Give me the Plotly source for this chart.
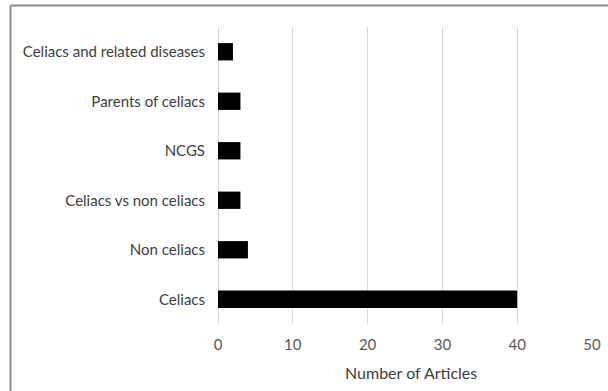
import plotly.graph_objects as go

categories = ["Celiacs", "Non celiacs", "Celiacs vs non celiacs", "NCGS",
              "Parents of celiacs", "Celiacs and related diseases"]
articles = [40, 4, 3, 3, 3, 2]
x_ticks = [0, 10, 20, 30, 40, 50]
x_title = "Number of Articles"

W, H = 608, 391
L, R, T, B = 218, 16, 27, 67
pw, ph = W - L - R, H - T - B

fig = go.Figure(go.Bar(
    y=categories, x=articles, orientation="h",
    marker=dict(color="#000000", line=dict(width=0)),
    width=0.35,
))

font = dict(family="Lato, Open Sans, sans-serif", size=15, color="#595959")

fig.update_layout(
    width=W, height=H,
    margin=dict(l=L, r=R, t=T, b=B, autoexpand=False),
    paper_bgcolor="white", plot_bgcolor="white",
    showlegend=False,
    font=font,
    xaxis=dict(
        range=[0, 50], tickvals=x_ticks, ticktext=[str(v) for v in x_ticks],
        showgrid=True, gridcolor="#d9d9d9", gridwidth=1,
        zeroline=True, zerolinecolor="#d9d9d9", zerolinewidth=1,
        showline=False, ticks="", ticklabelstandoff=10,
        tickfont=dict(size=15, color="#595959"),
        fixedrange=True,
    ),
    yaxis=dict(
        categoryorder="array", categoryarray=categories,
        range=[-0.5, len(categories) - 0.5],
        showgrid=False, zeroline=False, showline=False,
        ticks="", ticklabelstandoff=12,
        tickfont=dict(size=15, color="#404040"),
        fixedrange=True,
    ),
    annotations=[
        dict(text=x_title, xref="paper", yref="paper",
             x=(410.5 - L) / pw, y=-(372 - (H - B)) / ph,
             xanchor="center", yanchor="middle", showarrow=False,
             font=dict(size=16, color="#404040")),
    ],
    shapes=[
        dict(type="line", xref="paper", yref="paper",
             x0=(10.5 - L) / pw, x1=(W + 5 - L) / pw,
             y0=(H - B - 5.5) / ph, y1=(H - B - 5.5) / ph,
             line=dict(color="#8c8c8c", width=2)),
        dict(type="line", xref="paper", yref="paper",
             x0=(10.5 - L) / pw, x1=(10.5 - L) / pw,
             y0=(H - B - 5.5) / ph, y1=-(B + 5) / ph,
             line=dict(color="#8c8c8c", width=2)),
    ],
)

fig.write_html(
    "out.html",
    config={"displayModeBar": False},
    post_script="document.body.style.margin='0';document.body.style.overflow='hidden';",
)
